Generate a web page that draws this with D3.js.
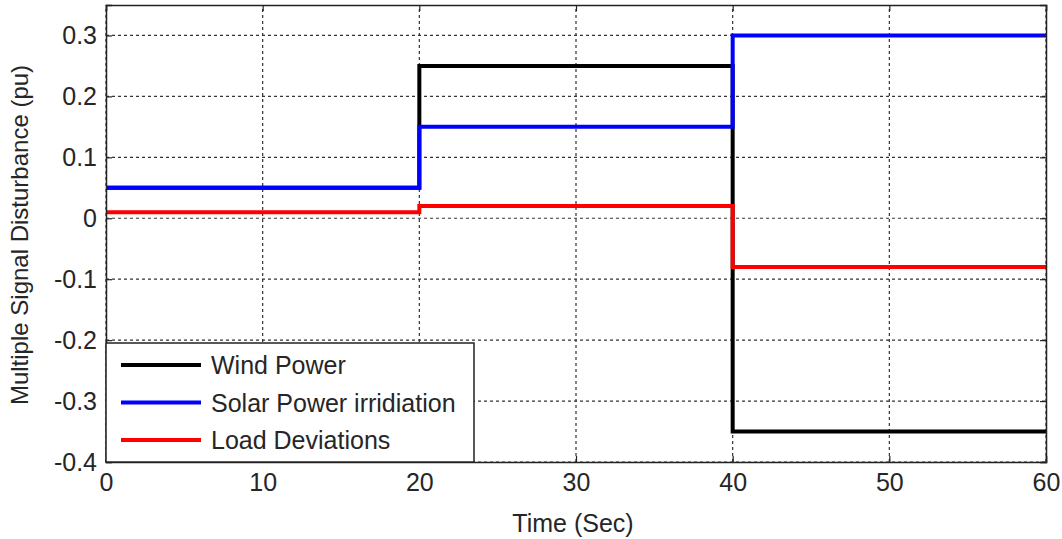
<!DOCTYPE html>
<html>
<head>
<meta charset="utf-8">
<script src="https://cdn.jsdelivr.net/npm/d3@7"></script>
<style>
  html, body { margin: 0; padding: 0; background: #fff; }
  svg { display: block; font-family: "Liberation Sans", Arial, sans-serif; }
</style>
</head>
<body>
<svg id="chart" width="1062" height="539"></svg>
<script>
// Step changes of each disturbance signal (value holds from its time to the next)
const stepTimes = [0, 20, 40, 60];
const windPower = [0.05, 0.25, -0.35];
const solarPower = [0.05, 0.15, 0.3];
const loadDeviation = [0.01, 0.02, -0.08];

const seriesNames = ["Wind Power", "Solar Power irridiation", "Load Deviations"];
const seriesColors = ["#000000", "#0000ff", "#ff0000"];

const xTicks = [0, 10, 20, 30, 40, 50, 60];
const yTicks = [-0.4, -0.3, -0.2, -0.1, 0, 0.1, 0.2, 0.3];

const svg = d3.select("#chart");
const margin = { left: 106, right: 16, top: 5, bottom: 77 };
const W = 1062, H = 539;
const x = d3.scaleLinear().domain([0, 60]).range([margin.left, W - margin.right]);
const y = d3.scaleLinear().domain([-0.4, 0.35]).range([H - margin.bottom, margin.top]);

const textColor = "#262626";
const fontSize = 25;

// dashed grid
const grid = svg.append("g");
grid.selectAll("line.gx").data(xTicks).join("line")
  .attr("x1", d => x(d)).attr("x2", d => x(d))
  .attr("y1", y.range()[0]).attr("y2", y.range()[1])
  .attr("stroke", "#333").attr("stroke-width", 1.2).attr("stroke-dasharray", "3,3");
grid.selectAll("line.gy").data(yTicks).join("line")
  .attr("x1", x.range()[0]).attr("x2", x.range()[1])
  .attr("y1", d => y(d)).attr("y2", d => y(d))
  .attr("stroke", "#333").attr("stroke-width", 1.2).attr("stroke-dasharray", "3,3");

// step lines
function stepData(vals) {
  return vals.map((v, i) => ({ t: stepTimes[i], v })).concat([{ t: stepTimes[stepTimes.length - 1], v: vals[vals.length - 1] }]);
}
const line = d3.line().x(d => x(d.t)).y(d => y(d.v)).curve(d3.curveStepAfter);
[windPower, solarPower, loadDeviation].forEach((vals, i) => {
  svg.append("path").datum(stepData(vals))
    .attr("d", line).attr("fill", "none")
    .attr("stroke", seriesColors[i]).attr("stroke-width", 4)
    .attr("stroke-linejoin", "miter");
});

// axes (ticks inside, mirrored on top/right)
const tickLen = 6;
const axB = svg.append("g").attr("transform", `translate(0,${y.range()[0]})`)
  .call(d3.axisBottom(x).tickValues(xTicks).tickSize(-tickLen).tickPadding(11).tickFormat(d3.format("d")));
const axL = svg.append("g").attr("transform", `translate(${x.range()[0]},0)`)
  .call(d3.axisLeft(y).tickValues(yTicks).tickSize(-tickLen).tickPadding(9)
    .tickFormat(d => d === 0 ? "0" : d3.format(".1f")(d).replace("\u2212", "-")));
const axT = svg.append("g").attr("transform", `translate(0,${y.range()[1]})`)
  .call(d3.axisTop(x).tickValues(xTicks).tickSize(-tickLen).tickFormat(""));
const axR = svg.append("g").attr("transform", `translate(${x.range()[1]},0)`)
  .call(d3.axisRight(y).tickValues(yTicks).tickSize(-tickLen).tickFormat(""));
[axB, axL, axT, axR].forEach(a => {
  a.select(".domain").attr("stroke", "#222").attr("stroke-width", 1.5);
  a.selectAll(".tick line").attr("stroke", "#222").attr("stroke-width", 1.2);
  a.selectAll("text").attr("font-size", fontSize).attr("fill", textColor)
    .attr("font-family", "Liberation Sans, Arial, sans-serif");
});

// axis titles
svg.append("text").attr("x", (x.range()[0] + x.range()[1]) / 2 - 3).attr("y", 532)
  .attr("text-anchor", "middle").attr("font-size", fontSize).attr("fill", textColor)
  .text("Time (Sec)");
svg.append("text").attr("transform", `translate(28,235) rotate(-90)`)
  .attr("text-anchor", "middle").attr("font-size", 24).attr("fill", textColor)
  .text("Multiple Signal Disturbance (pu)");

// legend
const lg = svg.append("g");
lg.append("rect").attr("x", x.range()[0]).attr("y", 343)
  .attr("width", 368).attr("height", y.range()[0] - 343)
  .attr("fill", "#fff").attr("stroke", "#222").attr("stroke-width", 1.5);
seriesNames.forEach((name, i) => {
  const cy = 365 + i * 37.5;
  lg.append("line").attr("x1", 121).attr("x2", 201).attr("y1", cy).attr("y2", cy)
    .attr("stroke", seriesColors[i]).attr("stroke-width", 4);
  lg.append("text").attr("x", 211).attr("y", cy + 9).attr("font-size", fontSize)
    .attr("fill", textColor).text(name);
});
</script>
</body>
</html>
